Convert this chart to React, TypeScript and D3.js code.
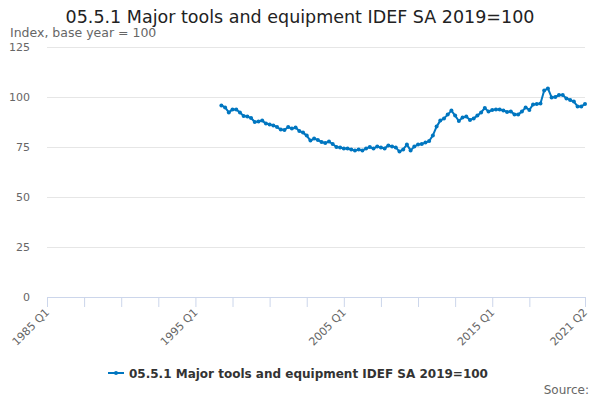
import * as d3 from 'd3'

// quarters on the category axis, 1985 Q1 .. 2021 Q2
const quarters: string[] = d3
  .range(1985 * 4, 2021 * 4 + 2)
  .map((q) => `${Math.floor(q / 4)} Q${(q % 4) + 1}`)

const seriesName = '05.5.1 Major tools and equipment IDEF SA 2019=100'
const firstQuarter = '1996 Q4'

// index values, from 1996 Q4 onwards
const values: number[] = [
  95.8, 94.8, 92.3, 93.8, 93.8, 92.2, 90.5, 90.2, 89.5, 87.5, 87.8, 88.2,
  86.7, 86.3, 85.8, 85.0, 83.7, 83.5, 85.0, 84.2, 84.7, 83.0, 82.2, 80.7,
  78.2, 79.2, 78.5, 77.5, 77.0, 77.7, 76.5, 75.0,
  74.7, 74.3, 74.2, 73.8, 73.2, 73.8, 73.2, 74.3, 75.0, 74.2, 75.3, 74.7,
  74.3, 75.8, 75.3, 74.8, 72.7, 73.8, 76.2, 73.3, 75.2, 76.3, 76.5, 77.2,
  78.0, 80.8, 85.2, 88.2, 89.3, 91.2, 93.2, 90.7, 88.0,
  89.7, 90.2, 88.5, 89.3, 90.7, 92.3, 94.5, 92.7, 93.5, 93.7, 93.7, 93.3,
  92.5, 92.8, 91.3, 91.3, 92.7, 94.8, 93.5, 96.3, 96.5, 96.7, 103.2, 104.3,
  99.8, 100, 101, 101, 99.3, 98.5, 97.7, 95.3, 95.3, 96.5,
]

const yTicks = [0, 25, 50, 75, 100, 125]
const xLabels = ['1985 Q1', '1995 Q1', '2005 Q1', '2015 Q1', '2021 Q2']

const width = 600
const height = 400
const marginLeft = 47
const marginRight = 15
const marginTop = 47
const marginBottom = 103
const blue = '#0076c0'
const font = 'DejaVu Sans, sans-serif'

export default function App() {
  const x = d3.scalePoint(quarters, [marginLeft, width - marginRight])
  const y = d3.scaleLinear([0, 125], [height - marginBottom, marginTop])
  const start = quarters.indexOf(firstQuarter)
  const points = values.map((v, i) => ({ q: quarters[start + i], v }))
  const line = d3
    .line<{ q: string; v: number }>()
    .x((d) => x(d.q)!)
    .y((d) => y(d.v))

  // minor ticks every 10 quarters, the last one at the end of the axis
  const tickQuarters = quarters
    .filter((_, i) => i % 10 === 0 && i <= 130)
    .concat(quarters[quarters.length - 1])

  const base = y(0)
  return (
    <svg
      width={width}
      height={height}
      style={{ position: 'absolute', left: 0, top: 0, fontFamily: font }}
    >
      <rect width={width} height={height} fill="white" />
      <text
        x={width / 2}
        y={23}
        textAnchor="middle"
        fontSize="17.5"
        fill="#222"
      >
        {seriesName}
      </text>
      <text x={10} y={37} fontSize="12.5" fill="#666">
        Index, base year = 100
      </text>
      {yTicks.map((t) => (
        <g key={t}>
          {t > 0 && (
            <line
              x1={marginLeft}
              x2={width - marginRight}
              y1={y(t) + 0.5}
              y2={y(t) + 0.5}
              stroke="#e6e6e6"
            />
          )}
          <text
            x={30}
            y={y(t) + 4}
            textAnchor="end"
            fontSize="11"
            fill="#666"
          >
            {t}
          </text>
        </g>
      ))}
      <line
        x1={marginLeft}
        x2={width - marginRight}
        y1={base + 0.5}
        y2={base + 0.5}
        stroke="#ccd6eb"
      />
      {tickQuarters.map((q) => (
        <line
          key={q}
          x1={x(q)! + 0.5}
          x2={x(q)! + 0.5}
          y1={base}
          y2={base + 10}
          stroke="#ccd6eb"
        />
      ))}
      {xLabels.map((q) => (
        <text
          key={q}
          transform={`translate(${x(q)! + 3},${base + 16}) rotate(-45)`}
          textAnchor="end"
          fontSize="11"
          fill="#666"
        >
          {q}
        </text>
      ))}
      <path
        d={line(points) || undefined}
        fill="none"
        stroke={blue}
        strokeWidth={2}
        strokeLinejoin="round"
      />
      {points.map((d) => (
        <circle key={d.q} cx={x(d.q)} cy={y(d.v)} r={2} fill={blue} />
      ))}
      <g transform="translate(108,373)">
        <line x1={0} x2={16} y1={0} y2={0} stroke={blue} strokeWidth={2} />
        <circle cx={8} cy={0} r={2} fill={blue} />
        <text x={21} y={4.5} fontSize="12" fontWeight="bold" fill="#333">
          {seriesName}
        </text>
      </g>
      <text
        x={589}
        y={394}
        textAnchor="end"
        fontSize="12"
        fill="#666"
      >
        Source:
      </text>
    </svg>
  )
}
